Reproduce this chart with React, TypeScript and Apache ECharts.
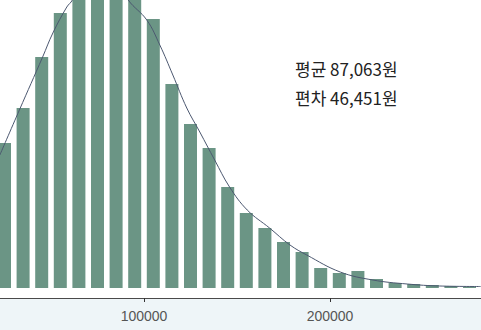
import React, { useEffect, useRef } from "react";
import * as echarts from "echarts";

// Histogram bins (bin centre, frequency) — bins of width 10000
const binCenters = [
  25000, 35000, 45000, 55000, 65000, 75000, 85000, 95000, 105000, 115000,
  125000, 135000, 145000, 155000, 165000, 175000, 185000, 195000, 205000,
  215000, 225000, 235000, 245000, 255000, 265000, 275000, 285000,
];
const binCounts = [
  145, 180, 231, 275, 305, 325, 322, 300, 269, 204,
  164, 140, 101, 75, 60, 46, 36, 20, 15,
  17, 9, 5, 4, 3, 2, 1.5, 1,
];

// Fitted density curve (same scale as frequencies)
const curveX = [
  22500, 33000, 45500, 51000, 58500, 61500, 68000, 75000, 82000, 91500,
  101500, 108500, 115500, 123000, 130000, 138000, 146000, 155500, 167500,
  178500, 187500, 205500, 223000, 241500, 259000, 281000,
];
const curveY = [
  133, 178, 231, 255, 281, 288, 316, 328, 318, 288,
  268, 243, 213, 180, 156, 128, 101, 78, 60,
  43, 33, 16, 8, 4, 2, 1.5,
];

const meanValue = 87063;
const sdValue = 46451;
const statLabels = [
  `평균 ${meanValue.toLocaleString("en-US")}원`,
  `편차 ${sdValue.toLocaleString("en-US")}원`,
];

export default function App() {
  const ref = useRef<HTMLDivElement>(null);
  useEffect(() => {
    document.body.style.margin = "0";
    const chart = echarts.init(ref.current!, undefined, { renderer: "svg" });
    chart.setOption({
      animation: false,
      backgroundColor: "#ffffff",
      grid: {
        left: -42,
        right: -35,
        top: 0,
        bottom: 32,
        containLabel: false,
        outerBoundsMode: "none",
      },
      xAxis: {
        type: "value",
        min: 0,
        max: 300000,
        interval: 100000,
        splitLine: { show: false },
        axisLine: { show: true, onZero: false, lineStyle: { color: "#4a4a4a", width: 1 } },
        axisTick: { show: true, length: 4, lineStyle: { color: "#333" } },
        axisLabel: {
          margin: 11,
          fontSize: 14,
          color: "#555",
          fontFamily: "Liberation Sans",
          showMinLabel: false,
          showMaxLabel: false,
          formatter: (v: number) => String(v),
        },
      },
      yAxis: {
        type: "value",
        min: -10,
        max: 288,
        show: false,
        splitLine: { show: false },
      },
      graphic: [
        {
          type: "rect",
          z: -10,
          shape: { x: 0, y: 298, width: 481, height: 32 },
          style: { fill: "#eef5f8" },
        },
        ...statLabels.map((t, i) => ({
          type: "text",
          z: 100,
          x: 295,
          y: 68 + i * 29,
          style: {
            text: t,
            fill: "#222",
            fontSize: 17,
            fontFamily: "Noto Sans CJK KR",
            verticalAlign: "middle",
            align: "left",
          },
        })),
      ],
      series: [
        {
          type: "bar",
          data: binCenters.map((c, i) => [c, binCounts[i]]),
          barWidth: 13,
          itemStyle: { color: "#6b9585" },
          clip: true,
          z: 2,
        },
        {
          type: "line",
          data: curveX.map((c, i) => [c, curveY[i]]),
          smooth: 0.4,
          symbol: "none",
          lineStyle: { color: "#4c5870", width: 1 },
          clip: true,
          z: 3,
        },
      ],
    });
    return () => chart.dispose();
  }, []);
  return <div ref={ref} style={{ width: 481, height: 330 }} />;
}
